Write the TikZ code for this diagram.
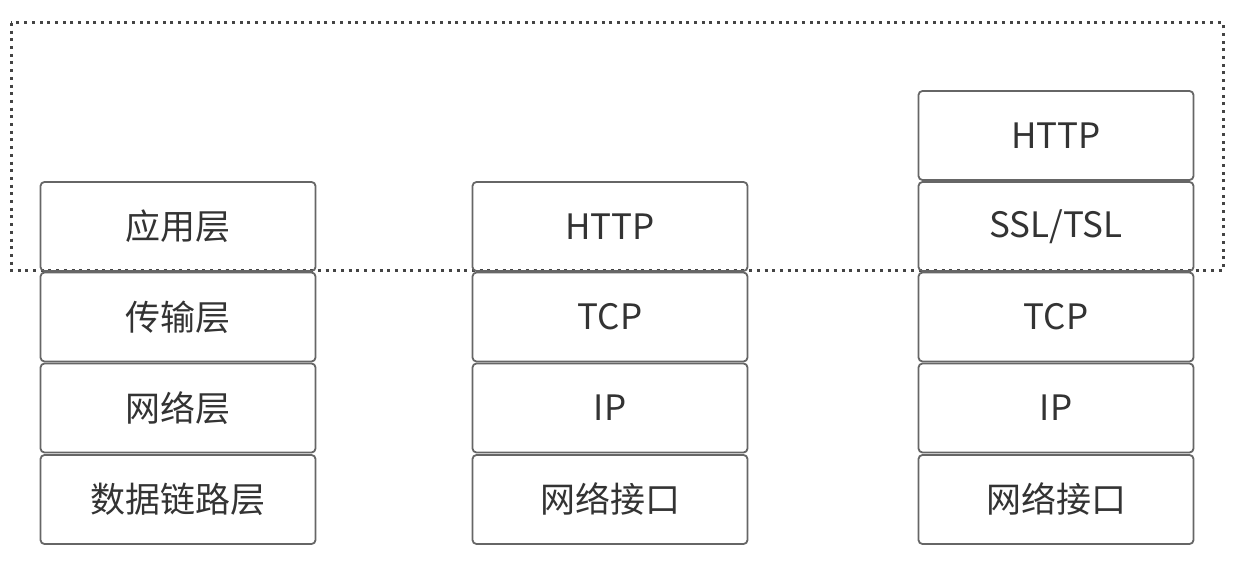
\documentclass[tikz,border=0pt]{standalone}
\usepackage{fontspec}
\setmainfont{Noto Sans CJK SC}
\definecolor{boxline}{HTML}{666666}
\definecolor{txt}{HTML}{333333}
\definecolor{dotline}{HTML}{444444}
\begin{document}
\begin{tikzpicture}[x=1pt,y=-1pt,
  layerbox/.style={draw=boxline, line width=1.8pt, rounded corners=4pt,
    minimum width=275pt, minimum height=89pt, inner sep=0pt,
    text=txt, font=\fontsize{35}{40}\selectfont},
  dotbox/.style={draw=dotline, line width=3pt, dash pattern=on 3pt off 4.7pt}]
\useasboundingbox (0,0) rectangle (1248,577);
\fill[white] (0,0) rectangle (1248,577);
% dotted frame
\coordinate (f1) at (11,23);
\coordinate (f2) at (1223,270.5);
\draw[dotbox] (f1) rectangle (f2);
% column 1
\node[layerbox] (a1) at (178,226.5) {应用层};
\node[layerbox] (a2) at (178,317) {传输层};
\node[layerbox] (a3) at (178,408) {网络层};
\node[layerbox] (a4) at (178,499.5) {数据链路层};
% column 2
\node[layerbox] (b1) at (610,226.5) {HTTP};
\node[layerbox] (b2) at (610,317) {TCP};
\node[layerbox] (b3) at (610,408) {IP};
\node[layerbox] (b4) at (610,499.5) {网络接口};
% column 3
\node[layerbox] (c0) at (1056,135.5) {HTTP};
\node[layerbox] (c1) at (1056,226.5) {SSL/TSL};
\node[layerbox] (c2) at (1056,317) {TCP};
\node[layerbox] (c3) at (1056,408) {IP};
\node[layerbox] (c4) at (1056,499.5) {网络接口};
\end{tikzpicture}
\end{document}
